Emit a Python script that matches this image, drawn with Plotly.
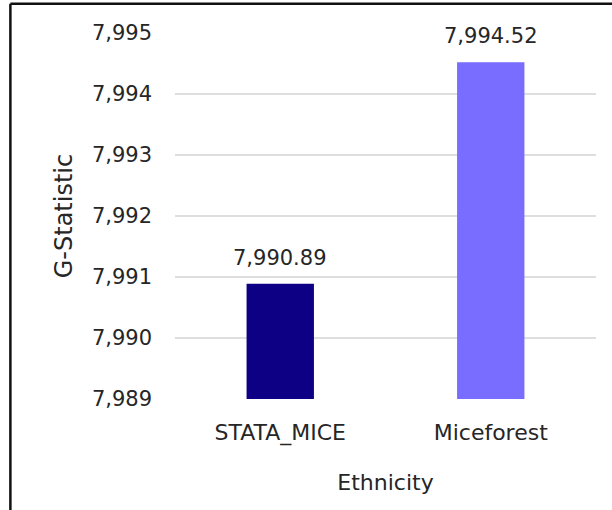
import plotly.graph_objects as go

categories = ["STATA_MICE", "Miceforest"]
values = [7990.89, 7994.52]
bar_colors = ["#0d0085", "#786dff"]
y_ticks = [7989, 7990, 7991, 7992, 7993, 7994, 7995]
y_tick_labels = ["7,989", "7,990", "7,991", "7,992", "7,993", "7,994", "7,995"]
x_title = "Ethnicity"
y_title = "G-Statistic"
y_base = 7989

num_font = "DejaVu Sans, sans-serif"
cat_font = "DejaVu Sans, sans-serif"
txt_color = "#262626"

fig = go.Figure()
fig.add_trace(go.Bar(
    x=categories, y=[v - y_base for v in values], base=y_base,
    marker=dict(color=bar_colors, line=dict(width=0)),
    width=0.32, showlegend=False, hoverinfo="skip",
))

for c, v in zip(categories, values):
    fig.add_annotation(x=c, y=v, text=f"{v:,.2f}", showarrow=False,
                       yanchor="bottom", yshift=12,
                       font=dict(family=num_font, size=21, color=txt_color))

fig.update_layout(
    width=612, height=510,
    margin=dict(l=175, r=16, t=33, b=111, autoexpand=False),
    paper_bgcolor="white", plot_bgcolor="white",
)
fig.update_yaxes(
    range=[7989, 7995], tickvals=y_ticks, ticktext=y_tick_labels,
    showgrid=True, gridcolor="#dedede", gridwidth=1.5, zeroline=False,
    showline=False, ticks="", ticklabelstandoff=22,
    tickfont=dict(family=num_font, size=21, color=txt_color),
    title=dict(text=y_title, standoff=12, font=dict(family=cat_font, size=24, color=txt_color)),
    automargin=False,
)
fig.update_xaxes(
    showgrid=False, showline=False, ticks="", ticklabelstandoff=18,
    tickfont=dict(family=cat_font, size=22, color=txt_color),
    title=dict(text=x_title, standoff=29, font=dict(family=cat_font, size=22, color=txt_color)),
    automargin=False,
)
# frame lines (left and top) of the chart box
fig.add_shape(type="line", xref="paper", yref="paper", x0=-0.391, x1=-0.391, y0=1.08, y1=-0.5,
              line=dict(color="#111111", width=2.5))
fig.add_shape(type="line", xref="paper", yref="paper", x0=-0.391, x1=1.2, y0=1.08, y1=1.08,
              line=dict(color="#111111", width=2.5))

fig.write_html("out.html")
